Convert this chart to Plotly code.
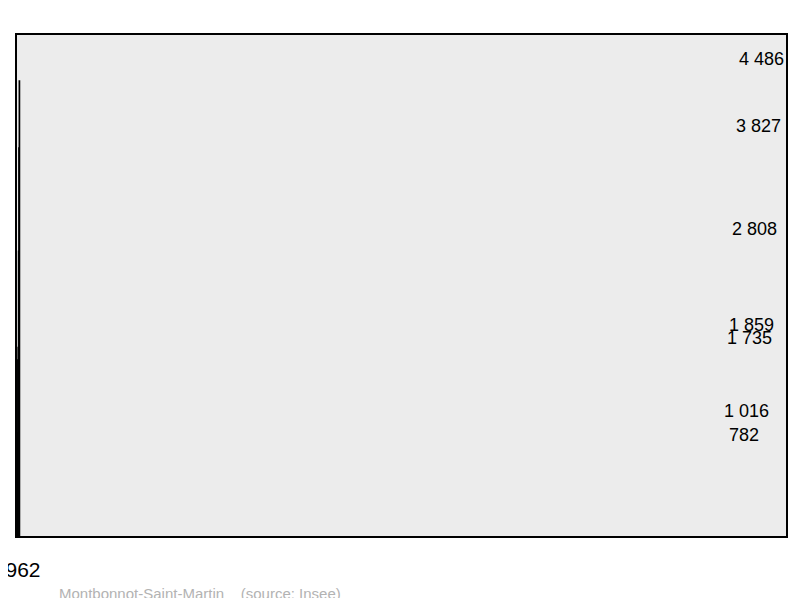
import plotly.graph_objects as go

years = ["1962", "1968", "1975", "1982", "1990", "1999", "2008"]
population = [782, 1016, 1735, 1859, 2808, 3827, 4486]
labels = ["782", "1 016", "1 735", "1 859", "2 808", "3 827", "4 486"]

fig = go.Figure(go.Bar(
    x=years, y=population,
    marker=dict(color="#7095ff", line=dict(color="black", width=1.5)),
    width=0.575,
))
ann = [dict(x=yr, y=v, text=t, xref="x", yref="y", yanchor="bottom",
            showarrow=False, yshift=10,
            font=dict(size=18, color="black"))
       for yr, v, t in zip(years, population, labels)]
ann.append(dict(text="Montbonnot-Saint-Martin &nbsp;&nbsp; (source: Insee)",
                xref="paper", yref="paper", x=0.052, y=-0.094,
                xanchor="left", yanchor="top", showarrow=False,
                font=dict(size=15, color="#b3b3b3")))
fig.update_layout(
    width=800, height=598,
    margin=dict(l=9, r=22, t=27, b=70, autoexpand=False),
    paper_bgcolor="white", plot_bgcolor="#ececec",
    showlegend=False,
    font=dict(family="Liberation Sans, Arial", color="black"),
    xaxis=dict(showline=True, linecolor="black", linewidth=2, mirror=True,
               tickfont=dict(size=21), ticks="", showgrid=False,
               automargin=False, ticklabelstandoff=14),
    yaxis=dict(range=[0, 4940], showline=True, linecolor="black", linewidth=2,
               mirror=True, showticklabels=False, ticks="", showgrid=False,
               zeroline=False, automargin=False),
    annotations=ann,
)
fig.write_html("out.html")
